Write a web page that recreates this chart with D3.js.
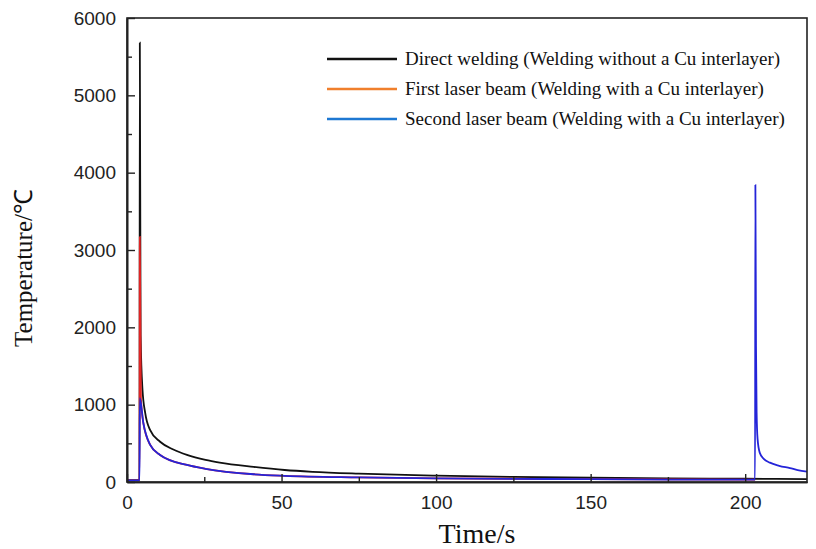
<!DOCTYPE html>
<html>
<head>
<meta charset="utf-8">
<script src="https://cdn.jsdelivr.net/npm/d3@7"></script>
<style>
  body { margin: 0; background: #fff; }
  svg { display: block; }
</style>
</head>
<body>
<div id="chart"></div>
<script>
// series values: [time (s), temperature (°C)]
const directWelding = [
  [0, 25], [4.05, 25], [4.15, 5680], [4.4, 1900], [5, 1200], [5.9, 890], [7.5, 670],
  [10.7, 520], [15, 420], [19.4, 350], [25.4, 285], [30, 250], [41, 195], [51, 155],
  [60, 132], [75, 108], [100, 82], [125, 66], [150, 55], [175, 47], [200, 42], [220, 38]
];
const firstBeam = [
  [0, 20], [4.05, 20], [4.15, 3170], [4.5, 1085], [5.3, 760], [7.5, 480], [10.7, 350],
  [19.4, 220], [25.4, 170], [41, 100], [51, 80], [75, 60], [100, 48], [150, 36], [200, 30], [203.2, 30]
];
const secondBeam = [
  [0, 20], [4.05, 20], [4.15, 1085], [5.3, 760], [7.5, 480], [10.7, 350], [19.4, 220],
  [25.4, 170], [41, 100], [51, 80], [75, 60], [100, 48], [125, 41], [150, 36], [175, 32],
  [200, 30], [203.2, 30], [203.3, 3840], [203.5, 1750], [203.7, 900], [204, 560],
  [204.7, 380], [206, 300], [208, 250], [211, 210], [214.5, 180], [217, 155], [220, 135]
];
const seriesNames = [
  "Direct welding (Welding without a Cu interlayer)",
  "First laser beam (Welding with a Cu interlayer)",
  "Second laser beam (Welding with a Cu interlayer)"
];
const xTicks = [0, 50, 100, 150, 200];
const xMinorTicks = [25, 75, 125, 175];
const yTicks = [0, 1000, 2000, 3000, 4000, 5000, 6000];
const yMinorTicks = [500, 1500, 2500, 3500, 4500, 5500];

const width = 816, height = 549;
const margin = {top: 18, right: 9, bottom: 67, left: 127};
const innerW = width - margin.left - margin.right;
const innerH = height - margin.top - margin.bottom;

const svg = d3.select("#chart").append("svg")
  .attr("width", width)
  .attr("height", height);
const g = svg.append("g")
  .attr("transform", "translate(" + margin.left + "," + margin.top + ")");

const x = d3.scaleLinear().domain([0, 220]).range([0, innerW]);
const y = d3.scaleLinear().domain([0, 6000]).range([innerH, 0]);

const line = d3.line()
  .curve(d3.curveMonotoneX)
  .x(d => x(d[0]))
  .y(d => y(d[1]));

// data lines: black first, then red, blue on top
g.append("path").datum(directWelding)
  .attr("fill", "none").attr("stroke", "#111").attr("stroke-width", 1.8).attr("d", line);
g.append("path").datum(firstBeam)
  .attr("fill", "none").attr("stroke", "#e02424").attr("stroke-width", 1.8).attr("d", line);
g.append("path").datum(secondBeam)
  .attr("fill", "none").attr("stroke", "#2424d8").attr("stroke-width", 1.8).attr("d", line);

// frame
g.append("rect")
  .attr("width", innerW).attr("height", innerH)
  .attr("fill", "none").attr("stroke", "#222").attr("stroke-width", 1.6);

// axes with inward ticks
g.append("g").attr("transform", "translate(0," + innerH + ")")
  .call(d3.axisBottom(x).tickValues(xTicks).tickFormat(d3.format("d"))
    .tickSizeInner(-8).tickSizeOuter(0).tickPadding(14));
g.append("g").attr("transform", "translate(0," + innerH + ")")
  .call(d3.axisBottom(x).tickValues(xMinorTicks).tickSizeInner(-5).tickSizeOuter(0).tickFormat(""));
g.append("g")
  .call(d3.axisLeft(y).tickValues(yTicks).tickFormat(d3.format("d"))
    .tickSizeInner(-8).tickSizeOuter(0).tickPadding(11));
g.append("g")
  .call(d3.axisLeft(y).tickValues(yMinorTicks).tickSizeInner(-5).tickSizeOuter(0).tickFormat(""));

g.selectAll(".domain").attr("stroke", "#222").attr("stroke-width", 1.6);
g.selectAll(".tick line").attr("stroke", "#222").attr("stroke-width", 1.4);
g.selectAll(".tick text")
  .attr("font-family", "Liberation Sans, Arial, sans-serif")
  .attr("font-size", 19)
  .attr("fill", "#222");

// axis titles
svg.append("text")
  .attr("x", margin.left + x(110) + 10)
  .attr("y", 543)
  .attr("text-anchor", "middle")
  .attr("font-family", "Liberation Serif, Times New Roman, serif")
  .attr("font-size", 28)
  .attr("fill", "#111")
  .text("Time/s");
svg.append("text")
  .attr("transform", "translate(32,268) rotate(-90)")
  .attr("text-anchor", "middle")
  .attr("font-family", "Liberation Serif, Times New Roman, serif")
  .attr("font-size", 25)
  .attr("fill", "#111")
  .text("Temperature/℃");

// legend
const legendColors = ["#111", "#f07f2c", "#1e78d2"];
const legend = svg.append("g").attr("transform", "translate(327,59)");
seriesNames.forEach((name, i) => {
  const row = legend.append("g").attr("transform", "translate(0," + i * 30 + ")");
  row.append("line")
    .attr("x1", 0).attr("x2", 70).attr("y1", 0).attr("y2", 0)
    .attr("stroke", legendColors[i]).attr("stroke-width", 2.6);
  row.append("text")
    .attr("x", 78).attr("y", 6)
    .attr("font-family", "Liberation Serif, Times New Roman, serif")
    .attr("font-size", 19)
    .attr("fill", "#111")
    .text(name);
});
</script>
</body>
</html>
